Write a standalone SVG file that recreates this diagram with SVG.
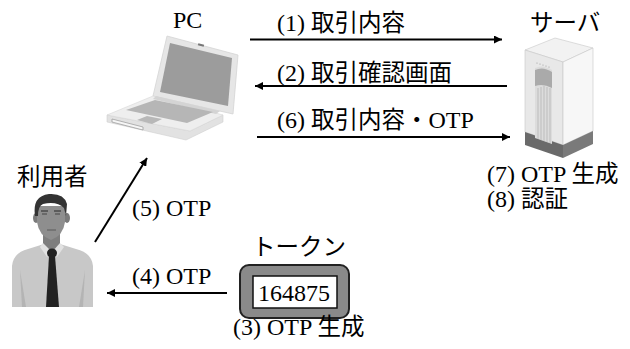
<svg xmlns="http://www.w3.org/2000/svg" width="630" height="349" viewBox="0 0 630 349">
  <style>
    .t { font-family: "Liberation Serif", "Noto Sans CJK JP", serif; font-size: 24px; fill: #000; }
    .j { font-family: "Noto Sans CJK JP", "Liberation Sans", sans-serif; font-size: 23.5px; }
    .conn { stroke: #000; stroke-width: 2; fill: none; }
  </style>
  <defs>
    <marker id="arrow" viewBox="0 0 10 10" refX="10" refY="5" markerWidth="8" markerHeight="8" markerUnits="userSpaceOnUse" orient="auto">
      <path d="M0,0 L10,5 L0,10 Z" fill="#000"/>
    </marker>
  </defs>
  <rect width="630" height="349" fill="#fff"/>

  <!-- PC (laptop) -->
  <g id="pc">
    <text class="t" x="173" y="28">PC</text>
    <!-- lid -->
    <polygon points="167,36 238,55 233,114 153,96" fill="#e6e6e6" stroke="#d4d4d4" stroke-width="0.8"/>
    <polygon points="170,43 232,58 228,106 160,92" fill="#9c9c9c"/>
    <rect x="198" y="44" width="6" height="2" fill="#777" transform="rotate(15 201 45)"/>
    <!-- base front face -->
    <polygon points="107,115 190,131 223,115 223,122 186,140 107,122" fill="#e2e2e2" stroke="#d0d0d0" stroke-width="0.6"/>
    <!-- base top face -->
    <polygon points="107,115 153,96 223,115 190,131" fill="#eeeeee" stroke="#d6d6d6" stroke-width="0.6"/>
    <!-- hinge strip -->
    <polygon points="156,96 220,111 216,114 153,99" fill="#d4d4d4"/>
    <!-- keyboard -->
    <polygon points="126,110 155,100 213,112 187,123" fill="#b6b6b6"/>
    <!-- touchpad -->
    <polygon points="137,120 147,116 162,119 152,124" fill="#b8b8b8"/>
    <!-- front slot -->
    <polygon points="112,119 143,127 143,130 112,122" fill="#f6f6f6" stroke="#888" stroke-width="0.6"/>
  </g>

  <!-- Server -->
  <g id="server">
    <text class="t" x="530" y="31"><tspan class="j">サーバ</tspan></text>
    <!-- top -->
    <polygon points="525,50 555,38 593,48 563,62" fill="#f2f2f2" stroke="#c8c8c8" stroke-width="0.6"/>
    <!-- front -->
    <polygon points="525,50 563,62 563,145 525,132" fill="#e8e8e8" stroke="#c8c8c8" stroke-width="0.6"/>
    <!-- side -->
    <polygon points="563,62 593,48 593,131 563,145" fill="#f7f7f7" stroke="#c8c8c8" stroke-width="0.6"/>
    <!-- base band -->
    <polygon points="525,132 563,145 563,158 525,145" fill="#6a6a6a"/>
    <polygon points="563,145 593,131 593,144 563,158" fill="#7a7a7a"/>
    <!-- front panel -->
    <path d="M535,68 Q543,64 552,70 L552,144 L535,138 Z" fill="#dcdcdc"/>
    <path d="M535,70 Q543,66 552,72 L552,88 Q543,83 535,86 Z" fill="#aaaaaa"/>
    <g stroke="#b4b4b4" stroke-width="0.8">
      <line x1="538" y1="88" x2="538" y2="139"/>
      <line x1="541" y1="87" x2="541" y2="140"/>
      <line x1="544" y1="86" x2="544" y2="141"/>
      <line x1="547" y1="87" x2="547" y2="142"/>
      <line x1="550" y1="88" x2="550" y2="143"/>
    </g>
    <g fill="#999">
      <circle cx="537" cy="63" r="0.6"/>
      <circle cx="540" cy="64" r="0.6"/>
      <circle cx="543" cy="65" r="0.6"/>
      <circle cx="546" cy="66" r="0.6"/>
      <circle cx="549" cy="67" r="0.6"/>
    </g>
    <text class="t" x="487" y="182">(7) OTP <tspan class="j">生成</tspan></text>
    <text class="t" x="487" y="207">(8) <tspan class="j">認証</tspan></text>
  </g>

  <!-- User -->
  <g id="user">
    <text class="t" x="17" y="185"><tspan class="j">利用者</tspan></text>
    <!-- shirt -->
    <path d="M12,307 L12,266 Q13,253 28,249 L44,244 L60,244 L76,249 Q92,253 93,266 L93,307 Z" fill="#c8c8c8"/>
    <path d="M20,270 L22,307 L26,307 Z" fill="#b4b4b4"/>
    <path d="M85,270 L83,307 L79,307 Z" fill="#b4b4b4"/>
    <!-- neck -->
    <path d="M43,230 L60,230 L60,246 L52,252 L43,246 Z" fill="#7e7e7e"/>
    <!-- collar -->
    <path d="M43,243 L52,252 L47,257 L40,247 Z" fill="#e2e2e2"/>
    <path d="M60,243 L52,252 L57,257 L64,247 Z" fill="#e2e2e2"/>
    <!-- ears -->
    <ellipse cx="36" cy="218" rx="3" ry="5" fill="#7a7a7a"/>
    <ellipse cx="67" cy="218" rx="3" ry="5" fill="#7a7a7a"/>
    <!-- face -->
    <path d="M37,206 L37,222 Q39,236 51,240 Q63,236 65,222 L65,206 Z" fill="#8e8e8e"/>
    <!-- hair -->
    <path d="M35,216 Q32,196 49,194 Q64,193 67,204 L66,216 L64,208 Q57,201 43,204 Q38,206 38,216 Z" fill="#333"/>
    <!-- eyes, brows, mouth -->
    <line x1="41" y1="211" x2="48" y2="211" stroke="#3a3a3a" stroke-width="1.2"/>
    <line x1="54" y1="211" x2="61" y2="211" stroke="#3a3a3a" stroke-width="1.2"/>
    <line x1="42" y1="214" x2="47" y2="214" stroke="#444" stroke-width="1"/>
    <line x1="55" y1="214" x2="60" y2="214" stroke="#444" stroke-width="1"/>
    <line x1="47" y1="230" x2="56" y2="230" stroke="#5a5a5a" stroke-width="1"/>
    <!-- tie -->
    <ellipse cx="52" cy="253" rx="5" ry="4.5" fill="#222"/>
    <path d="M49,256 L46,307 L59,307 L55,256 Z" fill="#222"/>
  </g>

  <!-- Token -->
  <g id="token">
    <text class="t" x="252" y="255"><tspan class="j">トークン</tspan></text>
    <rect x="240" y="265" width="109" height="53" rx="9" ry="9" fill="#8a8a8a" stroke="#222" stroke-width="2"/>
    <rect x="253" y="276" width="84" height="32" fill="#fff" stroke="#111" stroke-width="1.5"/>
    <text class="t" x="258" y="301">164875</text>
    <text class="t" x="233" y="335">(3) OTP <tspan class="j">生成</tspan></text>
  </g>

  <!-- Connectors -->
  <g id="connectors">
    <line class="conn" x1="250" y1="39.5" x2="502" y2="39.5" marker-end="url(#arrow)"/>
    <line class="conn" x1="507" y1="86" x2="255" y2="86" marker-end="url(#arrow)"/>
    <line class="conn" x1="257" y1="137" x2="510" y2="137" marker-end="url(#arrow)"/>
    <line class="conn" x1="95" y1="242" x2="147" y2="158" marker-end="url(#arrow)"/>
    <line class="conn" x1="227" y1="293" x2="107" y2="293" marker-end="url(#arrow)"/>
  </g>

  <!-- Connector labels -->
  <g id="labels">
    <text class="t" x="277" y="31">(1) <tspan class="j">取引内容</tspan></text>
    <text class="t" x="277" y="81">(2) <tspan class="j">取引確認画面</tspan></text>
    <text class="t" x="277" y="128">(6) <tspan class="j">取引内容・</tspan>OTP</text>
    <text class="t" x="132" y="216">(5) OTP</text>
    <text class="t" x="132" y="284">(4) OTP</text>
  </g>
</svg>
